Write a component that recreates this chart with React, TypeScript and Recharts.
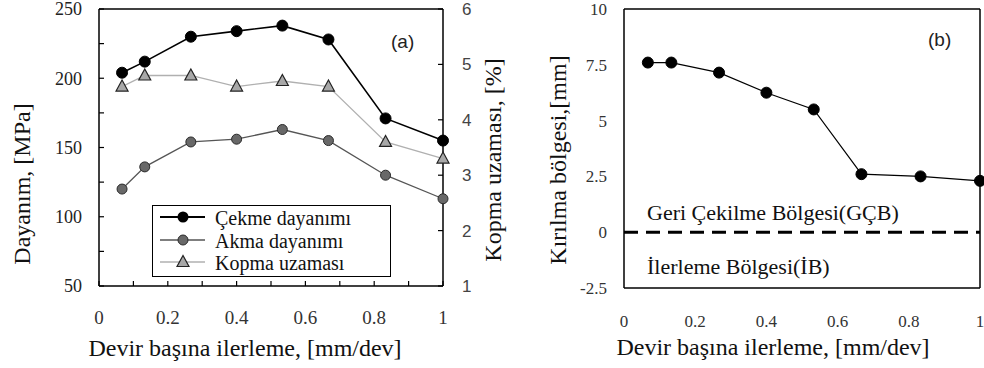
import React from 'react';
import { LineChart, Line, XAxis, YAxis, ReferenceLine, Legend, Label } from 'recharts';

// ---- data ----
const feed = [0.067, 0.133, 0.267, 0.4, 0.533, 0.667, 0.833, 1.0];
const cekme = [204, 212, 230, 234, 238, 228, 171, 155];
const akma = [120, 136, 154, 156, 163, 155, 130, 113];
const kopma = [4.6, 4.8, 4.8, 4.6, 4.7, 4.6, 3.6, 3.3];
const kirilma = [7.6, 7.6, 7.15, 6.25, 5.5, 2.6, 2.5, 2.3];

const leftTicks = [50, 75, 100, 125, 150, 175, 200, 225, 250];
const rightTicks = [1, 2, 3, 4, 5, 6];
const xTicksA = [0, 0.1, 0.2, 0.3, 0.4, 0.5, 0.6, 0.7, 0.8, 0.9, 1];
const xTicksB = [0, 0.2, 0.4, 0.6, 0.8, 1];
const yTicksB = [-2.5, 0, 2.5, 5, 7.5, 10];

const seriesNames = ['Çekme dayanımı', 'Akma dayanımı', 'Kopma uzaması'];
const xTitle = 'Devir başına ilerleme, [mm/dev]';
const yTitleA = 'Dayanım, [MPa]';
const y2TitleA = 'Kopma uzaması, [%]';
const yTitleB = 'Kırılma bölgesi,[mm]';
const zoneTop = 'Geri Çekilme Bölgesi(GÇB)';
const zoneBottom = 'İlerleme Bölgesi(İB)';

const dataA = feed.map((x, i) => ({ x, cekme: cekme[i], akma: akma[i], kopma: kopma[i] }));
const dataB = feed.map((x, i) => ({ x, k: kirilma[i] }));

const SERIF = 'Liberation Serif, DejaVu Serif, serif';
const SANS = 'Liberation Sans, Arial, sans-serif';

// ---- markers ----
const BlackDot = (p: any) => <circle key={p.key ?? p.index} cx={p.cx} cy={p.cy} r={5.5} fill="#000" stroke="#000" />;
const GrayDot = (p: any) => <circle key={p.key ?? p.index} cx={p.cx} cy={p.cy} r={5} fill="#686868" stroke="#2a2a2a" strokeWidth={1} />;
const Tri = (p: any) => (
  <polygon
    key={p.key ?? p.index}
    points={`${p.cx},${p.cy - 6.5} ${p.cx - 6},${p.cy + 4.5} ${p.cx + 6},${p.cy + 4.5}`}
    fill="#a8a8a8"
    stroke="#222"
    strokeWidth={1.2}
  />
);

const rotTitle = (text: string, cx: number, cy: number, size: number) => () => (
  <text
    x={cx}
    y={cy}
    transform={`rotate(-90 ${cx} ${cy})`}
    textAnchor="middle"
    dominantBaseline="central"
    style={{ fontFamily: SERIF, fontSize: size }}
    fill="#111"
  >
    {text}
  </text>
);

const hTitle = (text: string, cx: number, cy: number, size: number) => () => (
  <text x={cx} y={cy} textAnchor="middle" dominantBaseline="central" style={{ fontFamily: SERIF, fontSize: size }} fill="#111">
    {text}
  </text>
);

const LegendBox = () => {
  const rows = [12, 35, 57];
  const strokes = ['#000', '#555', '#b0b0b0'];
  const widths = [2, 1.3, 1.3];
  const markers = [
    (cx: number, cy: number) => <circle cx={cx} cy={cy} r={5.5} fill="#000" />,
    (cx: number, cy: number) => <circle cx={cx} cy={cy} r={5} fill="#686868" stroke="#2a2a2a" />,
    (cx: number, cy: number) => (
      <polygon points={`${cx},${cy - 6.5} ${cx - 6},${cy + 4.5} ${cx + 6},${cy + 4.5}`} fill="#a8a8a8" stroke="#222" strokeWidth={1.2} />
    ),
  ];
  return (
    <div style={{ width: 239, height: 72, border: '1.5px solid #000', boxSizing: 'border-box', background: '#fff' }}>
      <svg width={236} height={69} style={{ display: 'block' }}>
        {seriesNames.map((n, i) => (
          <g key={n}>
            <line x1={7} x2={52} y1={rows[i] - 1} y2={rows[i] - 1} stroke={strokes[i]} strokeWidth={widths[i]} />
            {markers[i](30, rows[i] - 1)}
            <text x={62} y={rows[i]} dominantBaseline="central" style={{ fontFamily: SERIF, fontSize: 20 }} fill="#111">
              {n}
            </text>
          </g>
        ))}
      </svg>
    </div>
  );
};

export default function App() {
  return (
    <div style={{ position: 'absolute', left: 0, top: 0, width: 984, height: 368, background: '#fff', overflow: 'hidden', fontFamily: SERIF }}>
      {/* Panel (a) */}
      <div style={{ position: 'absolute', left: 0, top: 0 }}>
        <LineChart width={512} height={368} data={dataA} margin={{ top: 9, right: 0, bottom: 0, left: 0 }}>
          <XAxis
            dataKey="x"
            type="number"
            domain={[0, 1]}
            ticks={xTicksA}
            interval={0}
            height={82}
            tickSize={-5}
            tickMargin={30}
            axisLine={{ stroke: '#000', strokeWidth: 1.5 }}
            tickLine={{ stroke: '#000', strokeWidth: 1.2 }}
            tick={{ style: { fontFamily: SERIF }, fontSize: 19, fill: '#333' }}
            tickFormatter={(v: number) => (Math.round(v * 10) % 2 === 0 ? String(v) : '')}
          >
            <Label content={hTitle(xTitle, 245, 348, 24)} />
          </XAxis>
          <YAxis
            yAxisId="left"
            orientation="left"
            width={99}
            domain={[50, 250]}
            ticks={leftTicks}
            interval={0}
            tickSize={-5}
            tickMargin={22}
            axisLine={{ stroke: '#000', strokeWidth: 1.5 }}
            tickLine={{ stroke: '#000', strokeWidth: 1.2 }}
            tick={{ style: { fontFamily: SERIF }, fontSize: 18, fill: '#222' }}
            tickFormatter={(v: number) => (v % 50 === 0 ? String(v) : '')}
          >
            <Label content={rotTitle(yTitleA, 22, 184, 24)} />
          </YAxis>
          <YAxis
            yAxisId="right"
            orientation="right"
            width={69}
            domain={[1, 6]}
            ticks={rightTicks}
            interval={0}
            tickSize={-5}
            tickMargin={24}
            axisLine={{ stroke: '#000', strokeWidth: 1.5 }}
            tickLine={{ stroke: '#000', strokeWidth: 1.2 }}
            tick={{ style: { fontFamily: SANS }, fontSize: 17, fill: '#444' }}
          >
            <Label content={rotTitle(y2TitleA, 493, 160, 24)} />
          </YAxis>
          <ReferenceLine yAxisId="left" y={250} stroke="#000" strokeWidth={1.5} />
          <Line yAxisId="right" dataKey="kopma" stroke="#b0b0b0" strokeWidth={1.3} dot={Tri} isAnimationActive={false} />
          <Line yAxisId="left" dataKey="akma" stroke="#555" strokeWidth={1.3} dot={GrayDot} isAnimationActive={false} />
          <Line yAxisId="left" dataKey="cekme" stroke="#000" strokeWidth={1.6} dot={BlackDot} isAnimationActive={false} />
          <Legend
            layout="vertical"
            align="center"
            verticalAlign="middle"
            content={<LegendBox />}
            wrapperStyle={{ left: 152, top: 205, width: 239, height: 72 }}
          />
        </LineChart>
        <div style={{ position: 'absolute', left: 391, top: 31, fontFamily: SANS, fontSize: 19, color: '#222', lineHeight: '22px', whiteSpace: 'nowrap' }}>
          (a)
        </div>
      </div>

      {/* Panel (b) */}
      <div style={{ position: 'absolute', left: 512, top: 0 }}>
        <LineChart width={472} height={368} data={dataB} margin={{ top: 9, right: 4, bottom: 0, left: 0 }}>
          <XAxis
            dataKey="x"
            type="number"
            domain={[0, 1]}
            ticks={xTicksB}
            interval={0}
            height={80}
            tickSize={0}
            tickMargin={27}
            axisLine={{ stroke: '#000', strokeWidth: 1.5 }}
            tickLine={false}
            tick={{ style: { fontFamily: SERIF }, fontSize: 17, fill: '#333' }}
          >
            <Label content={hTitle(xTitle, 261, 347, 24)} />
          </XAxis>
          <YAxis
            width={112}
            domain={[-2.5, 10]}
            ticks={yTicksB}
            interval={0}
            tickSize={0}
            tickMargin={17}
            axisLine={{ stroke: '#000', strokeWidth: 1.5 }}
            tickLine={false}
            tick={{ style: { fontFamily: SERIF }, fontSize: 17, fill: '#333' }}
          >
            <Label content={rotTitle(yTitleB, 46, 160, 24)} />
          </YAxis>
          <ReferenceLine y={10} stroke="#000" strokeWidth={1.5} />
          <ReferenceLine x={1} stroke="#000" strokeWidth={1.5} />
          <ReferenceLine y={0} stroke="#000" strokeWidth={3} strokeDasharray="14 8" />
          <Line dataKey="k" stroke="#000" strokeWidth={1.2} dot={BlackDot} isAnimationActive={false} />
        </LineChart>
        <div style={{ position: 'absolute', left: 416, top: 29, fontFamily: SANS, fontSize: 19, color: '#222', lineHeight: '22px', whiteSpace: 'nowrap' }}>
          (b)
        </div>
        <div style={{ position: 'absolute', left: 135, top: 200, fontFamily: SERIF, fontSize: 22, color: '#111', lineHeight: '26px', whiteSpace: 'nowrap' }}>
          {zoneTop}
        </div>
        <div style={{ position: 'absolute', left: 135, top: 254, fontFamily: SERIF, fontSize: 22, color: '#111', lineHeight: '26px', whiteSpace: 'nowrap' }}>
          {zoneBottom}
        </div>
      </div>
    </div>
  );
}
